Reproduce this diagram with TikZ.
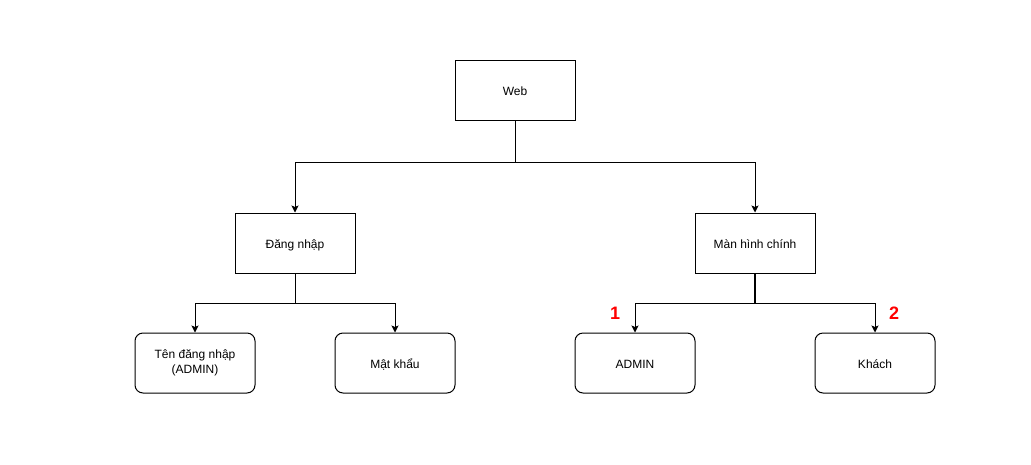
\documentclass[tikz,border=0pt]{standalone}
\usepackage{fontspec}
\setmainfont{Liberation Sans}
\usetikzlibrary{arrows.meta}
\begin{document}
\begin{tikzpicture}[x=1pt,y=-1pt,
  base/.style={draw, line width=1pt, minimum width=120pt, minimum height=60pt, inner sep=0pt, align=center, font=\fontsize{12}{14.5}\selectfont},
  box/.style={base, text height=11.5pt, text depth=0pt},
  rbox/.style={box, rounded corners=8pt},
  rbox2/.style={base, rounded corners=8pt},
  conn/.style={line width=1pt, -{Stealth[length=7pt,width=7pt,inset=1.5pt]}},
  num/.style={text=red, font=\fontsize{18}{20}\selectfont\bfseries}]
\useasboundingbox[fill=white] (0,0) rectangle (1031,464);
\node[box] (web) at (515,90) {Web};
\node[box] (login) at (295,243) {Đăng nhập};
\node[box] (main) at (755,243) {Màn hình chính};
\node[rbox2] (user) at (195,363) {Tên đăng nhập\\(ADMIN)};
\node[rbox] (pass) at (395,363) {Mật khẩu};
\node[rbox] (admin) at (635,363) {ADMIN};
\node[rbox] (guest) at (875,363) {Khách};
\coordinate (j1) at (515,162);
\coordinate (j2) at (295,303);
\coordinate (j3) at (755,303);
\draw[line width=1pt] (web.south) -- (j1);
\draw[conn] (j1) -| (login.north);
\draw[conn] (j1) -| (main.north);
\draw[line width=1pt] (login.south) -- (j2);
\draw[conn] (j2) -| (user.north);
\draw[conn] (j2) -| (pass.north);
\draw[line width=2pt] (main.south) -- (j3);
\draw[conn] (j3) -| (admin.north);
\draw[conn] (j3) -| (guest.north);
\node[num] (n1) at (615,313) {1};
\node[num] (n2) at (894,313) {2};
\end{tikzpicture}
\end{document}
